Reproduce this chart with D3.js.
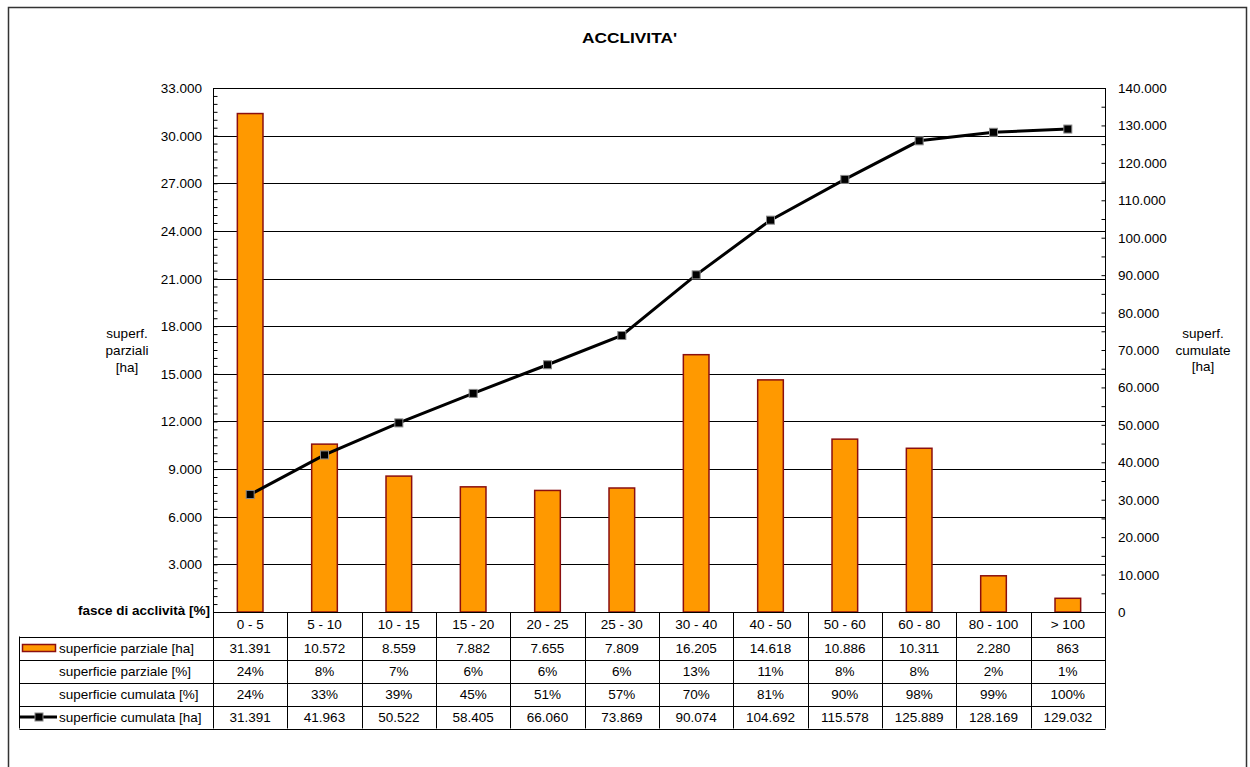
<!DOCTYPE html>
<html>
<head>
<meta charset="utf-8">
<script src="https://cdn.jsdelivr.net/npm/d3@7"></script>
<style>
  body { margin: 0; background: #fff; }
  text { font-family: "Liberation Sans", Arial, sans-serif; font-size: 13.5px; fill: #000; }
</style>
</head>
<body>
<script>
// slope classes and values (from the table)
var categories = ["0 - 5", "5 - 10", "10 - 15", "15 - 20", "20 - 25", "25 - 30", "30 - 40", "40 - 50", "50 - 60", "60 - 80", "80 - 100", "> 100"];
var partialHa = [31391, 10572, 8559, 7882, 7655, 7809, 16205, 14618, 10886, 10311, 2280, 863];
var partialPct = [24, 8, 7, 6, 6, 6, 13, 11, 8, 8, 2, 1];
var cumPct = [24, 33, 39, 45, 51, 57, 70, 81, 90, 98, 99, 100];
var cumHa = [31391, 41963, 50522, 58405, 66060, 73869, 90074, 104692, 115578, 125889, 128169, 129032];

var leftTicks = [3000, 6000, 9000, 12000, 15000, 18000, 21000, 24000, 27000, 30000, 33000];
var rightTicks = [0, 10000, 20000, 30000, 40000, 50000, 60000, 70000, 80000, 90000, 100000, 110000, 120000, 130000, 140000];

var it = d3.formatLocale({ decimal: ",", thousands: ".", grouping: [3], currency: ["", "€"] });
var fmt = it.format(",d");

var W = 1250, H = 767;
var plot = { left: 213, right: 1105, top: 88, bottom: 612 };

var svg = d3.select("body").append("svg")
    .attr("width", W)
    .attr("height", H);

// outer frame
svg.append("rect")
    .attr("x", 8.5).attr("y", 7.5)
    .attr("width", 1238).attr("height", 800)
    .attr("fill", "none")
    .attr("stroke", "#333")
    .attr("stroke-width", 1.5);

// scales
var x = d3.scaleBand()
    .domain(categories)
    .range([plot.left, plot.right]);

var y = d3.scaleLinear()
    .domain([0, 33000])
    .range([plot.bottom, plot.top]);

var y2 = d3.scaleLinear()
    .domain([0, 140000])
    .range([plot.bottom, plot.top]);

// title
svg.append("text")
    .attr("x", 582).attr("y", 43)
    .attr("textLength", 95)
    .attr("lengthAdjust", "spacingAndGlyphs")
    .style("font-weight", "bold")
    .style("font-size", "15px")
    .text("ACCLIVITA'");

// grid lines
svg.append("g").selectAll("line")
    .data(leftTicks)
    .enter().append("line")
    .attr("x1", plot.left).attr("x2", plot.right)
    .attr("y1", function (d) { return Math.round(y(d)) + 0.5; })
    .attr("y2", function (d) { return Math.round(y(d)) + 0.5; })
    .attr("stroke", "#000")
    .attr("stroke-width", 1);

// left axis
var gl = svg.append("g")
    .attr("transform", "translate(" + (plot.left + 0.5) + ",0)")
    .call(d3.axisRight(y).ticks(55).tickSize(4).tickFormat(""));
gl.select(".domain").remove();
gl.append("line").attr("y1", plot.top).attr("y2", plot.bottom).attr("stroke", "#000");

svg.append("g").selectAll("text")
    .data(leftTicks)
    .enter().append("text")
    .attr("x", 202)
    .attr("y", function (d) { return y(d) + 5; })
    .attr("text-anchor", "end")
    .text(function (d) { return fmt(d); });

// right axis
var gr = svg.append("g")
    .attr("transform", "translate(" + (plot.right + 0.5) + ",0)")
    .call(d3.axisLeft(y2).ticks(28).tickSize(4).tickFormat(""));
gr.select(".domain").remove();
gr.append("line").attr("y1", plot.top).attr("y2", plot.bottom).attr("stroke", "#000");

svg.append("g").selectAll("text")
    .data(rightTicks)
    .enter().append("text")
    .attr("x", 1118)
    .attr("y", function (d) { return y2(d) + 5; })
    .text(function (d) { return fmt(d); });

// axis titles
var leftTitle = ["superf.", "parziali", "[ha]"];
var rightTitle = ["superf.", "cumulate", "[ha]"];
svg.append("g").selectAll("text")
    .data(leftTitle)
    .enter().append("text")
    .attr("x", 127)
    .attr("y", function (d, i) { return 338 + i * 17; })
    .attr("text-anchor", "middle")
    .text(function (d) { return d; });
svg.append("g").selectAll("text")
    .data(rightTitle)
    .enter().append("text")
    .attr("x", 1203)
    .attr("y", function (d, i) { return 338 + i * 16.5; })
    .attr("text-anchor", "middle")
    .text(function (d) { return d; });

// bars
var barW = x.bandwidth() * 0.345;
svg.append("g").selectAll("rect")
    .data(partialHa)
    .enter().append("rect")
    .attr("x", function (d, i) { return x(categories[i]) + (x.bandwidth() - barW) / 2; })
    .attr("y", function (d) { return y(d); })
    .attr("width", barW)
    .attr("height", function (d) { return plot.bottom - y(d); })
    .attr("fill", "#FF9900")
    .attr("stroke", "#8B0F0F")
    .attr("stroke-width", 1.5);

// cumulative line
var line = d3.line()
    .x(function (d, i) { return x(categories[i]) + x.bandwidth() / 2; })
    .y(function (d) { return y2(d); });

svg.append("path")
    .datum(cumHa)
    .attr("d", line)
    .attr("fill", "none")
    .attr("stroke", "#000")
    .attr("stroke-width", 3);

svg.append("g").selectAll("rect")
    .data(cumHa)
    .enter().append("rect")
    .attr("x", function (d, i) { return x(categories[i]) + x.bandwidth() / 2 - 4; })
    .attr("y", function (d) { return y2(d) - 4; })
    .attr("width", 8).attr("height", 8)
    .attr("fill", "#000")
    .attr("stroke", "#888")
    .attr("stroke-width", 1);

// data table
var tableLeft = 19.5;
var headTop = 612.5, headBottom = 636.5;
var rowNames = ["superficie parziale [ha]", "superficie parziale [%]", "superficie cumulata [%]", "superficie cumulata [ha]"];
var rowValues = [
    partialHa.map(fmt),
    partialPct.map(function (d) { return d + "%"; }),
    cumPct.map(function (d) { return d + "%"; }),
    cumHa.map(fmt)
];
var rowY = d3.scaleBand()
    .domain(rowNames)
    .range([headBottom, headBottom + 92]);

var tbl = svg.append("g");

// horizontal lines
tbl.append("line")
    .attr("x1", plot.left).attr("x2", plot.right + 0.5)
    .attr("y1", headTop).attr("y2", headTop)
    .attr("stroke", "#000");
tbl.selectAll(".hl")
    .data(rowNames.concat(["end"]))
    .enter().append("line")
    .attr("class", "hl")
    .attr("x1", tableLeft).attr("x2", plot.right + 0.5)
    .attr("y1", function (d, i) { return Math.round(headBottom + i * rowY.bandwidth()) + 0.5; })
    .attr("y2", function (d, i) { return Math.round(headBottom + i * rowY.bandwidth()) + 0.5; })
    .attr("stroke", "#000");

// vertical lines
var colEdges = categories.map(function (c) { return x(c); }).concat([plot.right]);
tbl.selectAll(".vl")
    .data(colEdges)
    .enter().append("line")
    .attr("class", "vl")
    .attr("x1", function (d) { return Math.round(d) + 0.5; })
    .attr("x2", function (d) { return Math.round(d) + 0.5; })
    .attr("y1", headTop).attr("y2", headBottom + 92)
    .attr("stroke", "#000");
tbl.append("line")
    .attr("x1", tableLeft).attr("x2", tableLeft)
    .attr("y1", headBottom).attr("y2", headBottom + 92)
    .attr("stroke", "#000");

// header row
tbl.selectAll(".cat")
    .data(categories)
    .enter().append("text")
    .attr("class", "cat")
    .attr("x", function (d) { return x(d) + x.bandwidth() / 2; })
    .attr("y", 629)
    .attr("text-anchor", "middle")
    .text(function (d) { return d; });

svg.append("text")
    .attr("x", 210).attr("y", 615)
    .attr("text-anchor", "end")
    .style("font-weight", "bold")
    .text("fasce di acclività [%]");

// rows
rowNames.forEach(function (name, r) {
    var cy = rowY(name) + rowY.bandwidth() / 2;
    tbl.append("text")
        .attr("x", 59).attr("y", cy + 5)
        .text(name);
    tbl.selectAll(".r" + r)
        .data(rowValues[r])
        .enter().append("text")
        .attr("class", "r" + r)
        .attr("x", function (d, i) { return x(categories[i]) + x.bandwidth() / 2; })
        .attr("y", cy + 5)
        .attr("text-anchor", "middle")
        .text(function (d) { return d; });
});

// legend keys
var cy0 = rowY(rowNames[0]) + rowY.bandwidth() / 2;
tbl.append("rect")
    .attr("x", 22.5).attr("y", cy0 - 3.5)
    .attr("width", 33).attr("height", 7)
    .attr("fill", "#FF9900")
    .attr("stroke", "#8B0F0F")
    .attr("stroke-width", 1.5);

var cy3 = rowY(rowNames[3]) + rowY.bandwidth() / 2;
tbl.append("line")
    .attr("x1", 20).attr("x2", 57)
    .attr("y1", cy3).attr("y2", cy3)
    .attr("stroke", "#000").attr("stroke-width", 3);
tbl.append("rect")
    .attr("x", 35).attr("y", cy3 - 4)
    .attr("width", 8).attr("height", 8)
    .attr("fill", "#000")
    .attr("stroke", "#888");
</script>
</body>
</html>
